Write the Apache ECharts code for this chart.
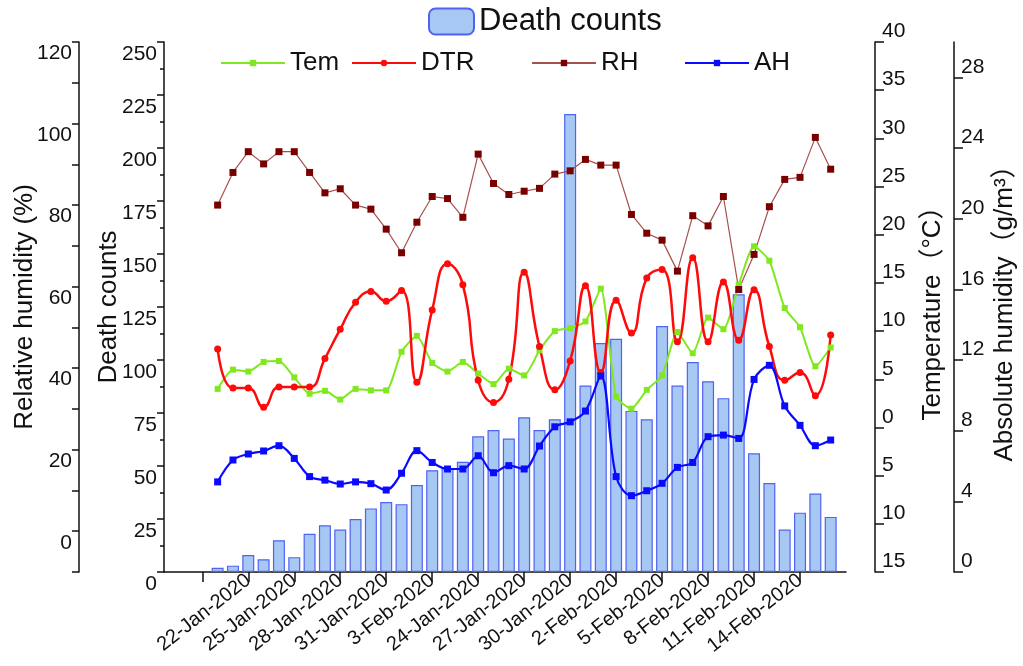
<!DOCTYPE html>
<html>
<head>
<meta charset="utf-8">
<script src="https://cdn.jsdelivr.net/npm/echarts@6/dist/echarts.min.js"></script>
<style>
html,body{margin:0;padding:0;background:#fff;}
#chart{width:1023px;height:666px;}
</style>
</head>
<body>
<div id="chart"></div>
<script>
// ---- data (41 consecutive days, index 0..40) ----
const deaths = [2,3,8,6,15,7,18,22,20,25,30,33,32,41,48,49,52,64,67,63,73,67,72,216,88,108,110,76,72,116,88,99,90,82,131,56,42,20,28,37,26];
const tem = [4.0,6.0,5.8,6.8,6.9,5.2,3.5,3.8,2.9,4.0,3.85,3.85,7.85,9.5,6.7,5.8,6.8,5.6,4.5,6.1,5.4,8.0,10.0,10.3,11.0,14.4,3.2,1.95,3.9,5.4,9.9,7.7,11.4,10.2,14.8,18.8,17.3,12.4,10.4,6.35,8.3];
const dtr = [8.15,4.1,4.1,2.1,4.2,4.2,4.2,7.15,10.2,13.0,14.1,13.1,14.2,4.7,12.2,17.0,14.8,4.9,2.6,5.0,16.1,8.4,3.9,6.9,14.7,5.7,13.2,9.8,15.5,16.4,8.9,17.6,8.9,15.1,9.05,14.3,8.4,4.9,5.7,3.3,9.6];
const rh = [80.0,88.0,93.1,90.1,93.1,93.1,88.0,83.0,84.0,80.0,79.0,74.1,68.3,75.8,82.1,81.6,77.0,92.5,85.3,82.6,83.4,84.1,87.6,88.4,91.2,89.8,89.8,77.7,73.1,71.4,63.8,77.4,74.9,82.1,59.3,67.9,79.6,86.3,86.8,96.6,88.8];
const ah = [5.1,6.34,6.68,6.85,7.15,6.43,5.4,5.2,4.98,5.1,5.0,4.64,5.59,6.87,6.2,5.83,5.83,6.58,5.62,6.02,5.83,7.13,8.22,8.5,9.11,11.09,5.4,4.32,4.6,5.02,5.92,6.2,7.66,7.75,7.56,10.9,11.7,9.4,8.3,7.15,7.47];
// x tick labels as printed (one every 3 days, starting at day index 2)
const tickLabels = ['22-Jan-2020','25-Jan-2020','28-Jan-2020','31-Jan-2020','3-Feb-2020','24-Jan-2020','27-Jan-2020','30-Jan-2020','2-Feb-2020','5-Feb-2020','8-Feb-2020','11-Feb-2020','14-Feb-2020'];
const labelPos = tickLabels.map((_, i) => 2 + 3 * i);
const tickPos = [-1].concat(labelPos);

const toXY = arr => arr.map((v, i) => [i, v]);
const FONT = "'Liberation Sans', Arial, 'Noto Sans CJK SC', sans-serif";
const black = '#111';

const chart = echarts.init(document.getElementById('chart'), null, {renderer: 'canvas'});

const lineLegend = (name, left) => ({
  data: [name], left: left, top: 50, padding: 0, itemGap: 0,
  itemWidth: 64, itemHeight: 8,
  textStyle: {fontFamily: FONT, fontSize: 26, color: black}
});

const yLine = {show: true, onZero: false, lineStyle: {color: black, width: 1.5}};
const nameStyle = {fontSize: 26, color: black, fontFamily: FONT};

const option = {
  backgroundColor: '#fff',
  animation: false,
  textStyle: {fontFamily: FONT},
  legend: [
    {data: ['Death counts'], left: 428, top: 6, padding: 0, itemWidth: 45, itemHeight: 26,
     textStyle: {fontFamily: FONT, fontSize: 31, color: black}},
    lineLegend('Tem', 220),
    lineLegend('DTR', 351),
    lineLegend('RH', 531),
    lineLegend('AH', 684)
  ],
  grid: {left: 164, right: 177, top: 42, bottom: 94, containLabel: false, outerBoundsMode: 'none'},
  xAxis: {
    type: 'value', min: -3.5, max: 41,
    axisLine: {show: true, onZero: false, lineStyle: {color: black, width: 1.5}},
    axisTick: {show: true, length: 10, lineStyle: {color: black, width: 1.5}, customValues: tickPos},
    axisLabel: {
      show: true, customValues: labelPos, rotate: 38, fontSize: 20, color: black, margin: 6,
      formatter: v => tickLabels[Math.round((v - 2) / 3)] || ''
    },
    splitLine: {show: false}
  },
  yAxis: [
    { // 0: death counts
      type: 'value', min: 0, max: 250, interval: 25, position: 'left', offset: 0,
      name: 'Death counts', nameLocation: 'middle', nameGap: 42, nameRotate: 90, nameMoveOverlap: false,
      nameTextStyle: nameStyle,
      axisLine: yLine,
      axisTick: {show: true, length: 7, lineStyle: {color: black, width: 1.5}},
      minorTick: {show: true, splitNumber: 2, length: 4, lineStyle: {color: black, width: 1.5}},
      axisLabel: {fontSize: 21, color: black, margin: 7, verticalAlign: 'top', padding: [2, 0, 0, 0]},
      splitLine: {show: false}
    },
    { // 1: relative humidity
      type: 'value', min: -10, max: 120, interval: 10, position: 'left', offset: 85,
      name: 'Relative humidity (%)', nameLocation: 'middle', nameGap: 41, nameRotate: 90, nameMoveOverlap: false,
      nameTextStyle: nameStyle,
      axisLine: yLine,
      axisTick: {show: true, length: 7, lineStyle: {color: black, width: 1.5}},
      axisLabel: {fontSize: 21, color: black, margin: 7, verticalAlign: 'top', padding: [1, 0, 0, 0],
        customValues: [0, 20, 40, 60, 80, 100, 120]},
      splitLine: {show: false}
    },
    { // 2: temperature
      type: 'value', min: -15, max: 40, interval: 5, position: 'right', offset: 29,
      name: 'Temperature\uFF08\u00B0C\uFF09', nameLocation: 'middle', nameGap: 45, nameRotate: 90, nameMoveOverlap: false,
      nameTextStyle: nameStyle,
      axisLine: yLine,
      axisTick: {show: true, length: 9, lineStyle: {color: black, width: 1.5}},
      axisLabel: {fontSize: 21, color: black, margin: 7, verticalAlign: 'bottom',
        formatter: v => String(Math.abs(v))},
      splitLine: {show: false}
    },
    { // 3: absolute humidity
      type: 'value', min: 0, max: 30, position: 'right', offset: 108,
      name: 'Absolute humidity\uFF08g/m\u00B3\uFF09', nameLocation: 'middle', nameGap: 38, nameRotate: 90, nameMoveOverlap: false,
      nameTextStyle: nameStyle,
      axisLine: yLine,
      axisTick: {show: true, length: 9, lineStyle: {color: black, width: 1.5},
        customValues: [0, 4, 8, 12, 16, 20, 24, 28]},
      axisLabel: {fontSize: 21, color: black, margin: 7, verticalAlign: 'bottom',
        customValues: [0, 4, 8, 12, 16, 20, 24, 28]},
      splitLine: {show: false}
    }
  ],
  series: [
    {
      name: 'Death counts', type: 'bar', xAxisIndex: 0, yAxisIndex: 0,
      data: toXY(deaths), barWidth: 12,
      itemStyle: {color: '#a7c8f2', borderColor: '#4f63f2', borderWidth: 1.2}
    },
    {
      name: 'Tem', type: 'line', yAxisIndex: 2, data: toXY(tem), smooth: 0.2,
      symbol: 'rect', symbolSize: 6,
      lineStyle: {color: '#80e81e', width: 2}, itemStyle: {color: '#80e81e'}
    },
    {
      name: 'DTR', type: 'line', yAxisIndex: 2, data: toXY(dtr), smooth: 0.5,
      symbol: 'circle', symbolSize: 7,
      lineStyle: {color: '#ff0a0a', width: 2.5}, itemStyle: {color: '#ff0a0a'}
    },
    {
      name: 'RH', type: 'line', yAxisIndex: 1, data: toXY(rh), smooth: false,
      symbol: 'rect', symbolSize: 7,
      lineStyle: {color: '#a5504e', width: 1.2}, itemStyle: {color: '#7a0000'}
    },
    {
      name: 'AH', type: 'line', yAxisIndex: 3, data: toXY(ah), smooth: 0.35,
      symbol: 'rect', symbolSize: 7,
      lineStyle: {color: '#0a0aff', width: 2.2}, itemStyle: {color: '#0a0aff'}
    }
  ]
};
chart.setOption(option);
</script>
</body>
</html>
